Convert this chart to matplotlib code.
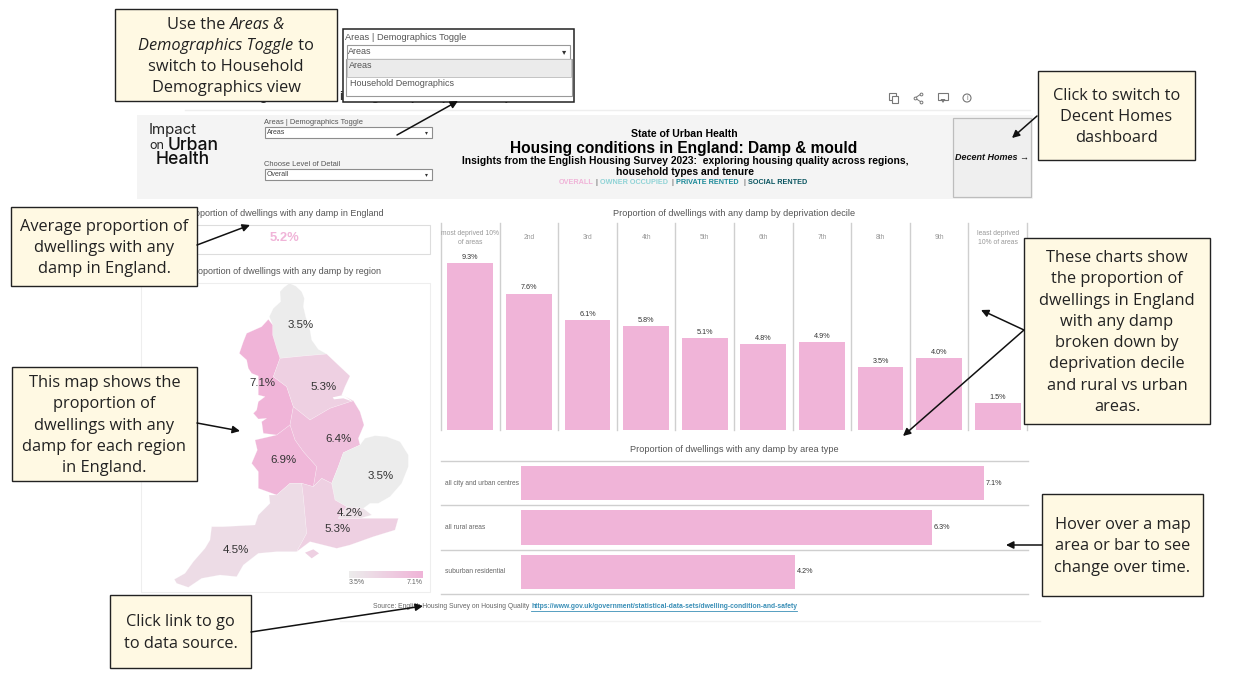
import matplotlib
matplotlib.use("Agg")
import matplotlib.pyplot as plt
from matplotlib.colors import LinearSegmentedColormap
from matplotlib.patches import Polygon, Rectangle, Circle
import numpy as np

W, H = 1244, 674
UI = "Liberation Sans"
CALL = "Open Sans"
plt.rcParams["font.family"] = [UI, "DejaVu Sans"]

# ---- data ----
decile_labels = ["most deprived 10%\nof areas", "2nd", "3rd", "4th", "5th", "6th", "7th", "8th", "9th",
                 "least deprived\n10% of areas"]
decile_values = [9.3, 7.6, 6.1, 5.8, 5.1, 4.8, 4.9, 3.5, 4.0, 1.5]
area_labels = ["all city and urban centres", "all rural areas", "suburban residential"]
area_values = [7.1, 6.3, 4.2]
region_names = ["North East", "North West", "Yorkshire", "East Midlands", "West Midlands", "East",
                "South West", "South East", "London"]
region_values = [3.5, 7.1, 5.3, 6.4, 6.9, 3.5, 4.5, 5.3, 4.2]
region_label_xy = [(513, 166), (397, 340), (581, 351), (627, 508), (459, 569), (752, 619), (319, 840),
                   (624, 776), (660, 730)]
england_avg = "5.2%"
scale_min, scale_max = 3.5, 7.1

outlines = {
    "North East": [(478, 40), (497, 48), (515, 65), (523, 85), (520, 110), (527, 140), (540, 180), (545, 210),
                   (565, 238), (590, 252), (520, 258), (450, 265), (440, 235), (428, 195), (428, 165), (418, 140),
                   (430, 115), (452, 95), (450, 65), (462, 52)],
    "North West": [(415, 148), (428, 165), (428, 195), (440, 235), (450, 265), (430, 320), (470, 350), (490, 410),
                   (480, 465), (440, 495), (400, 490), (395, 455), (410, 445), (385, 447), (370, 430), (380, 420),
                   (385, 395), (405, 380), (385, 375), (385, 345), (385, 318), (365, 310), (355, 295), (350, 270),
                   (328, 250), (340, 215), (350, 190), (395, 170)],
    "Yorkshire": [(450, 265), (520, 258), (590, 252), (625, 285), (660, 318), (645, 350), (635, 375), (670, 392),
                  (600, 415), (540, 450), (490, 410), (470, 350), (430, 320)],
    "East Midlands": [(490, 410), (540, 450), (600, 415), (670, 392), (690, 425), (702, 465), (685, 505), (690, 525),
                      (640, 548), (625, 590), (605, 640), (575, 625), (550, 650), (560, 590), (520, 545), (495, 510),
                      (480, 465)],
    "West Midlands": [(440, 495), (480, 465), (495, 510), (520, 545), (560, 590), (550, 650), (515, 640), (480, 640),
                      (440, 675), (385, 655), (385, 605), (365, 580), (382, 540), (375, 510)],
    "East": [(690, 525), (705, 505), (735, 497), (770, 500), (810, 515), (835, 555), (835, 590), (815, 640), (780, 680),
             (745, 700), (720, 700), (700, 715), (650, 710), (615, 690), (605, 640), (625, 590), (640, 548)],
    "South West": [(417, 675), (440, 675), (480, 640), (515, 640), (520, 680), (530, 790), (500, 845), (440, 845),
                   (385, 850), (340, 885), (320, 920), (270, 915), (215, 925), (175, 952), (140, 940), (133, 928),
                   (165, 910), (190, 875), (225, 835), (240, 810), (245, 770), (280, 770), (375, 765), (385, 735),
                   (420, 700)],
    "South East": [(515, 640), (550, 650), (575, 625), (605, 640), (615, 690), (650, 710), (625, 745), (690, 745),
                   (805, 745), (795, 780), (730, 800), (660, 825), (620, 835), (560, 820), (540, 815), (500, 845),
                   (530, 790), (520, 680)],
    "London": [(650, 710), (700, 715), (725, 735), (690, 745), (625, 745)],
}
isle_of_wight = [(525, 848), (550, 838), (567, 850), (545, 865)]
humber = [(608, 382), (640, 375), (668, 395), (640, 385), (612, 388)]

callouts = [
    ((115, 9, 337, 101), [[("Use the ", "normal"), ("Areas &", "italic")],
                          [("Demographics Toggle", "italic"), (" to", "normal")],
                          [("switch to Household", "normal")], [("Demographics view", "normal")]]),
    ((1038, 71, 1195, 160), [[("Click to switch to", "normal")], [("Decent Homes", "normal")], [("dashboard", "normal")]]),
    ((11, 207, 197, 286), [[("Average proportion of", "normal")], [("dwellings with any", "normal")],
                           [("damp in England.", "normal")]]),
    ((12, 367, 197, 481), [[("This map shows the", "normal")], [("proportion of", "normal")],
                           [("dwellings with any", "normal")], [("damp for each region", "normal")],
                           [("in England.", "normal")]]),
    ((1024, 238, 1210, 424), [[("These charts show", "normal")], [("the proportion of", "normal")],
                              [("dwellings in England", "normal")], [("with any damp", "normal")],
                              [("broken down by", "normal")], [("deprivation decile", "normal")],
                              [("and rural vs urban", "normal")], [("areas.", "normal")]]),
    ((1042, 494, 1203, 596), [[("Hover over a map", "normal")], [("area or bar to see", "normal")],
                              [("change over time.", "normal")]]),
    ((110, 595, 251, 668), [[("Click link to go", "normal")], [("to data source.", "normal")]]),
]
arrows = [((397, 135), (458, 101)), ((1037, 116), (1012, 138)), ((197, 245), (250, 225)), ((197, 423), (240, 431)),
          ((1024, 330), (981, 310)), ((1024, 330), (903, 436)), ((1042, 545), (1006, 545)), ((251, 632), (423, 606))]

PINK = "#f0b4d8"
cmap = LinearSegmentedColormap.from_list("damp", ["#ececec", PINK])


def px_axes(x0, y0, x1, y1, z):
    return fig.add_axes([x0 / W, 1 - y1 / H, (x1 - x0) / W, (y1 - y0) / H], zorder=z)


fig = plt.figure(figsize=(W / 100, H / 100), dpi=100, facecolor="white")
bg = px_axes(0, 0, W, H, 0)
bg.set_xlim(0, W); bg.set_ylim(H, 0); bg.axis("off")


def rect(ax, x0, y0, x1, y1, fc="none", ec="none", lw=0.8, z=1):
    ax.add_patch(Rectangle((x0, y0), x1 - x0, y1 - y0, fc=fc, ec=ec, lw=lw, zorder=z))


def T(ax, x, y, s, px, color="#444444", ha="left", weight="normal", style="normal", family=UI, z=5):
    return ax.text(x, y, s, fontsize=px * 0.72, color=color, ha=ha, va="center", fontweight=weight, fontstyle=style,
                   family=family, zorder=z)


def dropdown(ax, x0, y0, x1, y1, label, px, z=3):
    rect(ax, x0, y0, x1, y1, fc="white", ec="#8d8d8d", lw=0.8, z=z)
    T(ax, x0 + 2, (y0 + y1) / 2, label, px, z=z + 1)
    ax.text(x1 - 6, (y0 + y1) / 2, "▾", fontsize=px * 0.6, color="#333333", ha="center", va="center",
            family="DejaVu Sans", zorder=z + 1)


# ---- browser chrome and header ----
T(bg, 216, 97, "Housing conditions in England (Damp & mould)", 13, color="#333333", weight="bold", z=1)
bg.plot([185, 1030], [110, 110], color="#eeeeee", lw=1)
ICON = "#777777"
# copy icon
rect(bg, 889, 93, 896, 100, ec=ICON, lw=0.8, z=2)
rect(bg, 891.5, 95.5, 898, 103, fc="white", ec=ICON, lw=0.8, z=3)
# share icon
bg.plot([921, 915, 921], [94, 98, 102], color=ICON, lw=0.7, marker="o", ms=2, mfc="white", mec=ICON, mew=0.7)
# download icon
rect(bg, 938, 93, 948, 100, ec=ICON, lw=0.8, z=2)
bg.add_patch(Polygon([(940.5, 99), (945.5, 99), (943, 103)], closed=True, fc=ICON, ec="none", zorder=3))
# info icon
bg.add_patch(Circle((967, 98), 4, fc="none", ec=ICON, lw=0.8))
bg.text(967, 98, "i", fontsize=5, color=ICON, ha="center", va="center")

rect(bg, 137, 115, 1033, 199, fc="#f4f4f4")
rect(bg, 953, 118, 1031, 197, fc="#efefef", ec="#bdbdbd", lw=0.9, z=2)
T(bg, 992, 157, "Decent Homes →", 9, color="#111111", ha="center", weight="bold", style="italic")
T(bg, 149, 130, "Impact", 15, color="#222222", family="Inter")
T(bg, 149, 146, "on", 12.5, color="#222222", family="Inter")
T(bg, 168, 146, "Urban", 17.5, color="#111111", family="Inter", weight="medium")
T(bg, 156, 160, "Health", 17.5, color="#111111", family="Inter", weight="medium")
T(bg, 264, 122, "Areas | Demographics Toggle", 7.5, color="#555555")
dropdown(bg, 265, 127, 432, 138, "Areas", 7)
T(bg, 264, 164, "Choose Level of Detail", 7.5, color="#555555")
dropdown(bg, 265, 169, 432, 180, "Overall", 7)

T(bg, 684, 134, "State of Urban Health", 10.5, color="#000000", ha="center", weight="bold")
T(bg, 684, 149, "Housing conditions in England: Damp & mould", 15.5, color="#000000", ha="center", weight="bold")
T(bg, 685, 161, "Insights from the English Housing Survey 2023:  exploring housing quality across regions,", 10.3,
  color="#000000", ha="center", weight="bold")
T(bg, 685, 172, "household types and tenure", 10.3, color="#000000", ha="center", weight="bold")
for x, s, c in [(559, "OVERALL", PINK), (595, "|", "#777777"), (600, "OWNER OCCUPIED", "#8fd3d6"), (672, "|", "#777777"),
                (676, "PRIVATE RENTED", "#1c8a99"), (743, "|", "#777777"), (748, "SOCIAL RENTED", "#0a5560")]:
    T(bg, x, 182, s, 7.3, color=c, weight="bold")

# ---- left panels ----
T(bg, 384, 213, "Average proportion of dwellings with any damp in England", 9, color="#555555", ha="right", z=1)
rect(bg, 190, 225, 430, 254, fc="white", ec="#dddddd", lw=0.8)
T(bg, 285, 238, england_avg, 13, color=PINK, ha="center", weight="bold")
T(bg, 381, 272, "Average proportion of dwellings with any damp by region", 9, color="#555555", ha="right", z=1)
rect(bg, 141, 283, 430, 592, fc="white", ec="#eeeeee", lw=0.8)

for name, v, (lx, ly) in zip(region_names, region_values, region_label_xy):
    col = cmap((v - scale_min) / (scale_max - scale_min))
    pts = np.array(outlines[name], float) / 3 + [130, 270]
    z = 3 if name == "London" else 2
    bg.add_patch(Polygon(pts, closed=True, fc=col, ec=(1, 1, 1, 0.35), lw=0.4, zorder=z))
    if name == "South East":
        bg.add_patch(Polygon(np.array(isle_of_wight, float) / 3 + [130, 270], closed=True, fc=col, ec="none", zorder=z))
    T(bg, 130 + lx / 3, 270 + ly / 3, f"{v:.1f}%", 11.5, color="#333333", ha="center")
bg.add_patch(Polygon(np.array(humber, float) / 3 + [130, 270], closed=True, fc="white", ec="none", zorder=4))

ramp = np.linspace(scale_min, scale_max, 100)[None, :]
bg.imshow(ramp, extent=(349, 423, 578, 571), cmap=cmap, vmin=scale_min, vmax=scale_max, aspect="auto", zorder=2)
bg.set_xlim(0, W); bg.set_ylim(H, 0)
T(bg, 349, 583, f"{scale_min}%", 7, color="#666666")
T(bg, 423, 583, f"{scale_max}%", 7, color="#666666", ha="right")

# ---- decile chart ----
T(bg, 734, 213, "Proportion of dwellings with any damp by deprivation decile", 9.1, color="#555555", ha="center")
ax1 = px_axes(441, 223, 1027, 430, 1)
ax1.patch.set_alpha(0)
pos = np.arange(len(decile_values))
ax1.bar(pos, decile_values, width=0.78, color=PINK)
ax1.set_xlim(-0.5, len(decile_values) - 0.5)
ax1.set_ylim(0, 207 / 17.96)
ax1.axis("off")
for b in np.arange(-0.5, len(decile_values)):
    ax1.axvline(b, color="#cfcfcf", lw=1, clip_on=False)
for i, (lab, v) in enumerate(zip(decile_labels, decile_values)):
    ax1.text(i, v + 0.12, f"{v:.1f}%", ha="center", va="bottom", fontsize=5.2, color="#333333")
    ax1.text(i, 10.7, lab, ha="center", va="center", fontsize=4.9, color="#999999", linespacing=1.3)

# ---- area type chart ----
T(bg, 734, 449, "Proportion of dwellings with any damp by area type", 9.1, color="#555555", ha="center")
ax2 = px_axes(521, 461, 1028, 594, 1)
ax2.patch.set_alpha(0)
ypos = np.arange(len(area_values))
ax2.barh(ypos, area_values, height=0.77, color=PINK)
ax2.set_xlim(0, 507 / 65.2)
ax2.set_ylim(len(area_values) - 0.5, -0.5)
ax2.axis("off")
for i, (lab, v) in enumerate(zip(area_labels, area_values)):
    ax2.text(v + 0.03, i, f"{v:.1f}%", ha="left", va="center", fontsize=5.2, color="#333333")
    T(bg, 445, 461 + (i + 0.5) * 133 / 3, lab, 6.6, color="#666666")
for i in range(len(area_values) + 1):
    y = 461 + i * 133 / 3
    bg.plot([441, 1028], [y, y], color="#cfcfcf", lw=1, zorder=1)

# ---- footer ----
T(bg, 373, 607, "Source: English Housing Survey on Housing Quality", 6.75, color="#666666")
T(bg, 531, 607, "https://www.gov.uk/government/statistical-data-sets/dwelling-condition-and-safety", 6.75,
  color="#3a8fb7", weight="bold")
bg.plot([531, 797], [611, 611], color="#3a8fb7", lw=0.6)
bg.plot([340, 1040], [621, 621], color="#f2f2f2", lw=1)

# ---- annotation overlay ----
ov = px_axes(0, 0, W, H, 5)
ov.set_xlim(0, W); ov.set_ylim(H, 0); ov.axis("off"); ov.patch.set_alpha(0)
rend = fig.canvas.get_renderer()
FILL = "#fff9e3"
PITCH = 21.3
for (x0, y0, x1, y1), lines in callouts:
    rect(ov, x0, y0, x1, y1, fc=FILL, ec="#222222", lw=1.0, z=2)
    cx, cy = (x0 + x1) / 2, (y0 + y1) / 2 + 1.5
    for i, segs in enumerate(lines):
        yy = cy + (i - (len(lines) - 1) / 2) * PITCH
        arts = [T(ov, 0, yy, s, 16.4, color="#222222", style=st, family=CALL) for s, st in segs]
        widths = [a.get_window_extent(rend).width for a in arts]
        x = cx - sum(widths) / 2
        for a, w in zip(arts, widths):
            a.set_x(x)
            x += w

# dropdown screenshot
rect(ov, 343, 29, 574, 102, fc="white", ec="#222222", lw=1.1, z=2)
T(ov, 345, 37, "Areas | Demographics Toggle", 9.3, color="#555555", z=3)
rect(ov, 347, 45, 570, 59, fc="white", ec="#999999", lw=0.8, z=3)
T(ov, 348, 52, "Areas", 9, color="#555555", z=4)
ov.text(564, 52, "▾", fontsize=6, color="#333333", ha="center", va="center", family="DejaVu Sans", zorder=4)
rect(ov, 346, 59, 572, 96, fc="white", ec="#999999", lw=0.8, z=3)
rect(ov, 347, 59, 571, 77, fc="#ebebeb", ec="#bbbbbb", lw=0.6, z=3)
T(ov, 349, 65, "Areas", 9, color="#555555", z=4)
T(ov, 350, 83, "Household Demographics", 9, color="#555555", z=4)

for (a, b) in arrows:
    ov.annotate("", xy=b, xytext=a, arrowprops=dict(arrowstyle="-|>", color="#111111", lw=1.1, mutation_scale=11,
                                                    shrinkA=0, shrinkB=0), zorder=6)

fig.savefig("out.png", dpi=100)
